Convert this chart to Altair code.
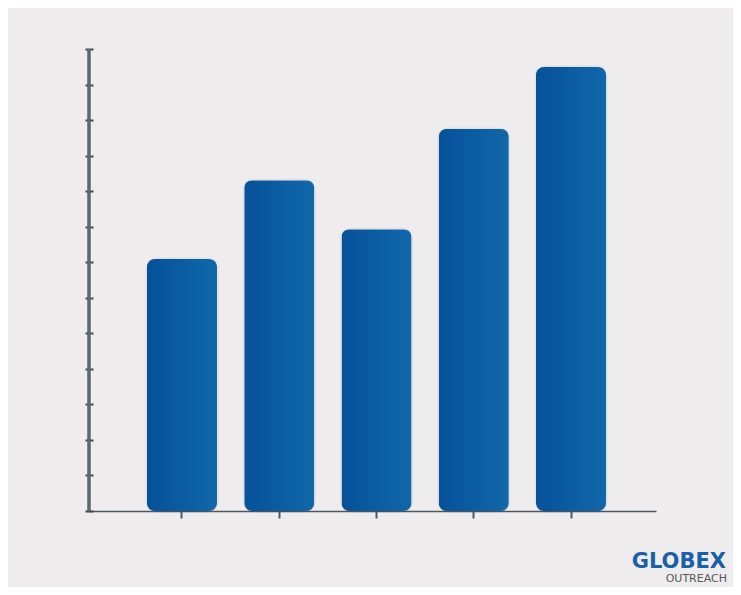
import altair as alt
import pandas as pd

categories = ["A", "B", "C", "D", "E"]
values = [7.09, 9.31, 7.93, 10.75, 12.49]
y_ticks = list(range(14))
logo_main = ["GLOBEX"]
logo_sub = ["OUTREACH"]

BG = "#eeecec"
AXIS = "#5c6770"

df = pd.DataFrame({"cat": categories, "val": values})

x = alt.X("cat:N", sort=categories,
          scale=alt.Scale(paddingInner=0.28, paddingOuter=0.555, align=0.537),
          axis=alt.Axis(labels=False, title=None, domainColor="#4d5860", domainWidth=1.5,
                        tickColor="#4d5860", tickWidth=2, tickSize=7))
y = alt.Y("val:Q", scale=alt.Scale(domain=[0, 13], nice=False),
          axis=alt.Axis(labels=False, title=None, grid=False, domain=False,
                        values=y_ticks, tickSize=8, offset=-4,
                        tickColor="#3e4a54", tickWidth=2))

grad = alt.Gradient(gradient="linear",
                    stops=[alt.GradientStop(color="#06519a", offset=0),
                           alt.GradientStop(color="#1068a9", offset=1)],
                    x1=0, x2=1, y1=0, y2=0)

shadow = alt.Chart(df).mark_bar(cornerRadius=9, fill="#000000", opacity=0.07,
                                stroke="#000000", strokeWidth=3, strokeOpacity=0.05).encode(
    x=x, y=y, y2=alt.value(464))

bars = alt.Chart(df).mark_bar(cornerRadius=8, fill=grad).encode(
    x=x, y=y, y2=alt.value(463))

ydomain = alt.Chart(df).mark_rule(color=AXIS, strokeWidth=2.5).encode(
    x=alt.value(0), y=alt.value(0), y2=alt.value(462))

logo1 = alt.Chart(pd.DataFrame({"t": logo_main})).mark_text(
    font="DejaVu Sans", fontWeight="bold", fontSize=21, color="#1a5fa8",
    align="right", baseline="alphabetic").encode(
    text="t:N", x=alt.value(637), y=alt.value(519))

logo2 = alt.Chart(pd.DataFrame({"t": logo_sub})).mark_text(
    font="DejaVu Sans", fontSize=11, color="#58595b",
    align="right", baseline="alphabetic").encode(
    text="t:N", x=alt.value(638), y=alt.value(533))

chart = alt.layer(shadow, bars, ydomain, logo1, logo2).properties(
    width=567, height=462,
    autosize=alt.AutoSizeParams(type="none"),
    padding={"left": 81, "top": 41, "right": 77, "bottom": 76},
    background=BG,
).configure_view(stroke=None)

chart.save("out.html", embed_options={"renderer": "svg", "actions": False})
